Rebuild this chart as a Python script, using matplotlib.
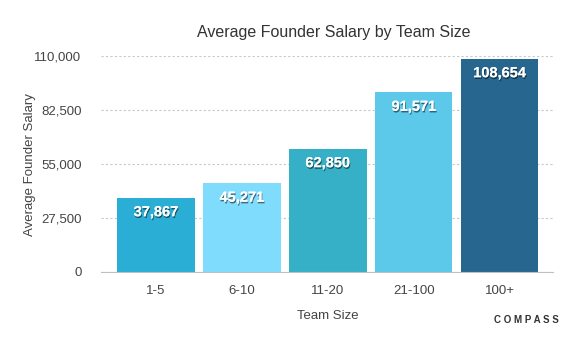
import matplotlib
matplotlib.use("Agg")
import matplotlib.pyplot as plt
import matplotlib.patheffects as pe

plt.rcParams["font.family"] = ["Liberation Sans", "DejaVu Sans"]

teams = ["1-5", "6-10", "11-20", "21-100", "100+"]
salaries = [37867, 45271, 62850, 91571, 108654]
colors = ["#2aaed6", "#80dcfc", "#35b0c6", "#5cc8ea", "#27678f"]
yticks = [0, 27500, 55000, 82500, 110000]

fig = plt.figure(figsize=(5.81, 3.5), dpi=100)
ax = fig.add_axes([101 / 581, 1 - 272 / 350, (553 - 101) / 581, (272 - 56) / 350])

x = range(len(teams))
bars = ax.bar(x, salaries, width=0.9, color=colors, zorder=2)
ax.set_xlim(-0.64, 4.62)
ax.set_ylim(0, 110000)
ax.set_yticks(yticks)
ax.set_yticklabels([f"{v:,}" for v in yticks])
ax.set_xticks(list(x))
ax.set_xticklabels(teams)
ax.tick_params(length=0, labelsize=9.5, colors="#444444")
ax.tick_params(axis="y", pad=14)
ax.tick_params(axis="x", pad=9)
ax.grid(axis="y", linestyle=(0, (2, 2)), color="#c8c8c8", linewidth=0.8, zorder=0)
for s in ["top", "right", "left"]:
    ax.spines[s].set_visible(False)
ax.spines["bottom"].set_color("#c0c0c0")

for b, v in zip(bars, salaries):
    t = ax.annotate(f"{v:,}", (b.get_x() + b.get_width() / 2, v), xytext=(0, -10.5),
                    textcoords="offset points", ha="center", va="center",
                    color="white", fontsize=10.5, fontweight="bold")
    t.set_path_effects([pe.withSimplePatchShadow(offset=(0.6, -1.2), shadow_rgbFace="#000000", alpha=0.5),
                        pe.Normal()])

fig.text(334 / 581, 1 - 33 / 350, "Average Founder Salary by Team Size", ha="center", va="center",
         fontsize=11.5, color="#333333")
fig.text(328 / 581, 1 - 316 / 350, "Team Size", ha="center", va="center", fontsize=9.5, color="#444444")
fig.text(30 / 581, 1 - 165 / 350, "Average Founder Salary", ha="center", va="center", rotation=90,
         fontsize=9.5, color="#444444")
fig.text(526 / 581, 1 - 320 / 350, "C O M P A S S", ha="center", va="center", fontsize=7,
         color="#333333", fontweight="bold")

fig.savefig("out.png", dpi=100)
